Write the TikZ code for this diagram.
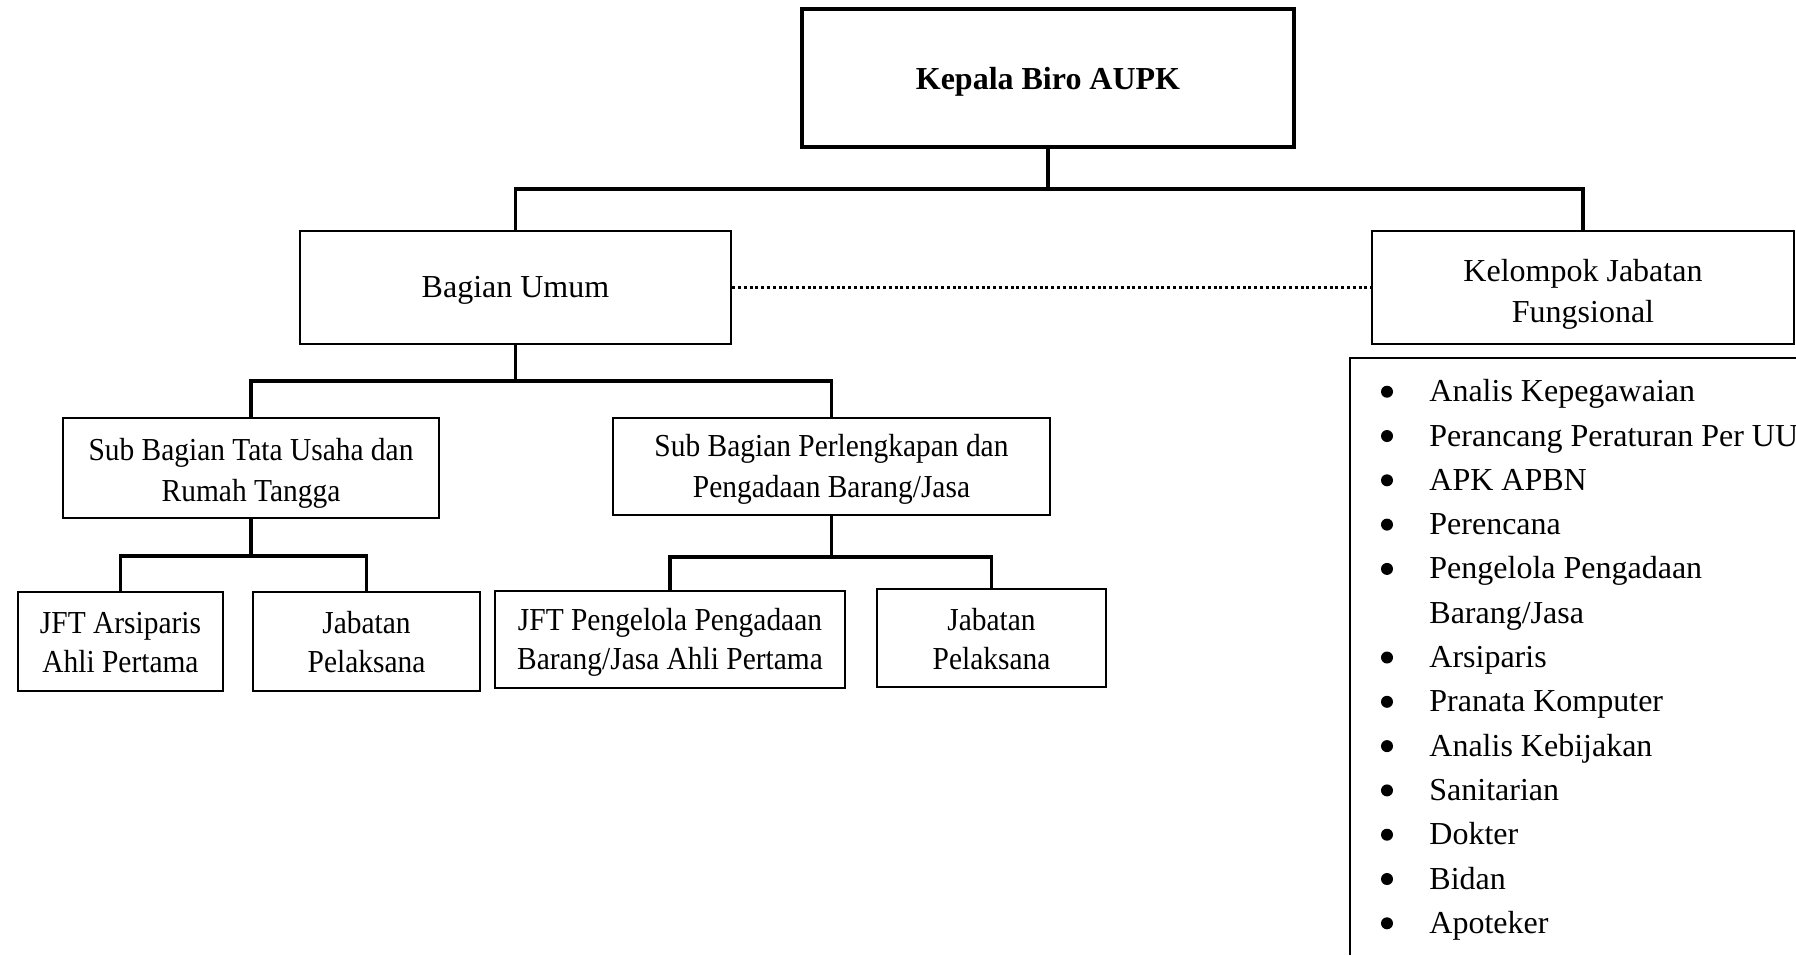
\documentclass[tikz,border=0pt]{standalone}
\usepackage{fontspec}
\setmainfont{Liberation Serif}
\newfontfamily\condfont[FakeStretch=0.92]{Liberation Serif}
\newcommand{\dn}[2]{\raisebox{-#1}[\height][\depth]{\begin{tabular}{@{}c@{}}#2\end{tabular}}}
\begin{document}
\begin{tikzpicture}[x=0.5pt,y=-0.5pt,
  box/.style={draw, line width=1.1pt, rectangle, inner sep=0pt,
    font=\fontsize{16}{20.5}\selectfont},
  sbox/.style={box, font=\condfont\fontsize{16}{20.5}\selectfont},
  lbox/.style={box, font=\condfont\fontsize{16}{19.5}\selectfont},
  conn/.style={line width=1.6pt},
  item/.style={anchor=base west, inner sep=0pt, font=\fontsize{16}{20}\selectfont},
  bul/.style={circle, fill, inner sep=0pt, minimum size=6pt}]
\useasboundingbox (0,0) rectangle (1796,955);
% boxes
\node[box, line width=1.6pt, minimum width=246pt, minimum height=69pt, font=\fontsize{16}{20.5}\selectfont\bfseries] (top) at (1048,78) {\dn{1.4pt}{Kepala Biro AUPK}};
\node[box, minimum width=215.5pt, minimum height=56.5pt] (bu) at (515.5,287.5) {\dn{0.85pt}{Bagian Umum}};
\node[box, minimum width=211pt, minimum height=56.5pt] (kjf) at (1583,287.5) {\dn{3.3pt}{Kelompok Jabatan\\Fungsional}};
\node[sbox, minimum width=188pt, minimum height=50pt] (tu) at (251,468) {\dn{2.2pt}{Sub Bagian Tata Usaha dan\\Rumah Tangga}};
\node[sbox, minimum width=218.5pt, minimum height=48.5pt] (pb) at (831.5,466.5) {\dn{1.2pt}{Sub Bagian Perlengkapan dan\\Pengadaan Barang/Jasa}};
\node[lbox, minimum width=102.5pt, minimum height=49.5pt] (ars) at (120.5,641.5) {\dn{1.7pt}{JFT Arsiparis\\Ahli Pertama}};
\node[lbox, minimum width=113.5pt, minimum height=49.5pt] (jp1) at (366.5,641.5) {\dn{1.7pt}{Jabatan\\Pelaksana}};
\node[lbox, minimum width=175pt, minimum height=48.5pt] (jft) at (670,639.5) {\dn{1.2pt}{JFT Pengelola Pengadaan\\Barang/Jasa Ahli Pertama}};
\node[lbox, minimum width=114.5pt, minimum height=49pt] (jp2) at (991.5,638) {\dn{1.9pt}{Jabatan\\Pelaksana}};
% bar coordinates
\coordinate (b0) at (1048,189);
\coordinate (b1) at (515.5,381);
\coordinate (b2) at (251,556);
\coordinate (b3) at (831.5,557);
% connectors
\draw[conn] (top.south) -- (b0);
\draw[conn] (bu.north) |- (b0) -| (kjf.north);
\draw[conn] (bu.south) -- (b1);
\draw[conn] (tu.north) |- (b1) -| (pb.north);
\draw[conn] (tu.south) -- (b2);
\draw[conn] (ars.north) |- (b2) -| (jp1.north);
\draw[conn] (pb.south) -- (b3);
\draw[conn] (jft.north) |- (b3) -| (jp2.north);
\draw[line width=1.6pt, dash pattern=on 1.5pt off 1.4pt] (bu.east) -- (kjf.west);
% list box (open to right and bottom)
\coordinate (lr) at (1796,358);
\coordinate (lb) at (1350,955);
\draw[line width=1.3pt] (lr) -- (1350,358) -- (lb);
% list items
\foreach \t [count=\i from 0] in {Analis Kepegawaian, Perancang Peraturan Per UU, APK APBN, Perencana, Pengelola Pengadaan}{
  \node[bul] (bu\i) at (1387,{391.7+44.3*\i}) {};
  \node[item] (it\i) at (1429,{401.7+44.3*\i}) {\t};
}
\node[item] (it5) at (1429,{401.7+44.3*5}) {Barang/Jasa};
\foreach \t [count=\i from 6] in {Arsiparis, Pranata Komputer, Analis Kebijakan, Sanitarian, Dokter, Bidan, Apoteker}{
  \node[bul] (bu\i) at (1387,{391.7+44.3*\i}) {};
  \node[item] (it\i) at (1429,{401.7+44.3*\i}) {\t};
}
\end{tikzpicture}
\end{document}
